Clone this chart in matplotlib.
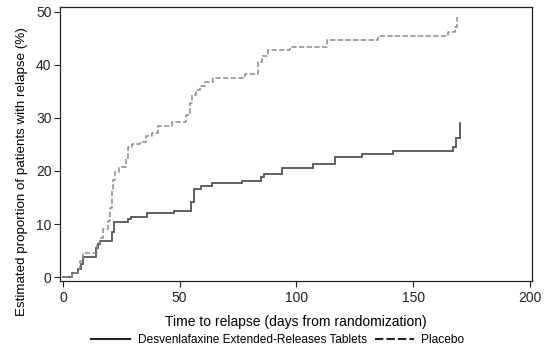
import matplotlib
matplotlib.use("Agg")
import matplotlib.pyplot as plt
from matplotlib.lines import Line2D

plt.rcParams['font.family'] = ['Liberation Sans', 'DejaVu Sans']

# Desvenlafaxine ER (solid)
dvs_t = [0, 3.9, 6.4, 7.7, 8.5, 14, 15, 16, 21, 22, 28, 29, 36, 47.7, 55, 56, 59, 64,
         76.5, 85, 86, 94, 107, 116.5, 128, 141.5, 167, 168.5, 170]
dvs_y = [0, 0.7, 1.5, 2.5, 3.7, 5.5, 6.2, 6.8, 8.5, 10.3, 10.9, 11.4, 12.0, 12.5, 14.2,
         16.6, 17.2, 17.7, 18.2, 18.9, 19.5, 20.6, 21.3, 22.6, 23.2, 23.8, 24.6, 26.2, 29.0]

# Placebo (dashed)
pbo_t = [0, 3.9, 6.4, 7.3, 8.5, 14.5, 15.8, 17.1, 19.3, 20.1, 21, 21.4, 22.3, 24, 27,
         27.8, 29.5, 33, 35.5, 38, 40.7, 46.7, 52.7, 54.5, 55.2, 57, 58.7, 60.8, 64.2,
         78, 83.5, 85.2, 87.8, 97.2, 113, 135, 165, 168, 168.7]
pbo_y = [0, 0.7, 1.5, 3.0, 4.5, 6.4, 7.4, 9.1, 10.5, 13.0, 16.5, 18.3, 19.8, 20.8, 22.5,
         24.6, 25.1, 25.5, 26.5, 27.2, 28.5, 29.3, 30.6, 32.8, 34.3, 35.3, 36.0, 36.8, 37.5,
         38.2, 40.6, 41.6, 42.8, 43.4, 44.7, 45.5, 46.2, 47.2, 49.1]

x_ticks = [0, 50, 100, 150, 200]
y_ticks = [0, 10, 20, 30, 40, 50]
labels = ["Desvenlafaxine Extended-Releases Tablets", "Placebo"]

fig = plt.figure(figsize=(5.49, 3.5), dpi=100)
ax = fig.add_axes([0.109, 0.197, 0.86, 0.783])

ax.step(dvs_t, dvs_y, where='post', color='#555555', lw=1.3, solid_joinstyle='miter')
ax.step(pbo_t, pbo_y, where='post', color='#8a8a8a', lw=1.1, dashes=(3.5, 1.5))

ax.set_xlim(-1.3, 200.9)
ax.set_ylim(-0.75, 50.9)
ax.set_xticks(x_ticks)
ax.set_yticks(y_ticks)
ax.tick_params(axis='both', direction='out', length=4, width=0.8, labelsize=10, colors='#222222')
ax.tick_params(axis='y', pad=2)
for s in ax.spines.values():
    s.set_linewidth(0.9)
    s.set_color('#222222')

ax.set_xlabel("Time to relapse (days from randomization)", fontsize=10)
ax.xaxis.set_label_coords(0.5, -0.125)
ax.set_ylabel("Estimated proportion of patients with relapse (%)", fontsize=9.6)
ax.yaxis.set_label_coords(-0.068, 0.40)

handles = [Line2D([], [], color='#222222', lw=1.5),
           Line2D([], [], color='#222222', lw=1.5, dashes=(4, 1.5))]
fig.legend(handles, labels, loc='center', bbox_to_anchor=(0.506, 0.028), ncol=2,
           frameon=False, fontsize=8.6, handlelength=3.3, handletextpad=0.6, columnspacing=0.7)

fig.savefig("out.png", dpi=100)
